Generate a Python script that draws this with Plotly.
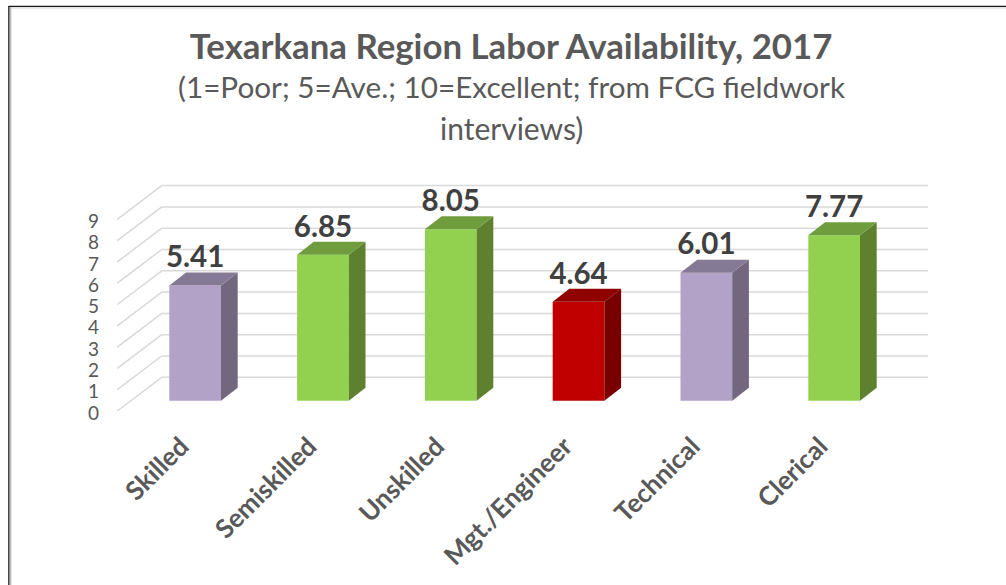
import plotly.graph_objects as go

# ---- data ----
categories = ["Skilled", "Semiskilled", "Unskilled", "Mgt./Engineer", "Technical", "Clerical"]
values = [5.41, 6.85, 8.05, 4.64, 6.01, 7.77]
y_ticks = [0, 1, 2, 3, 4, 5, 6, 7, 8, 9]
face_colors = ["#B3A2C7", "#92D050", "#92D050", "#C00000", "#B3A2C7", "#92D050"]
side_colors = ["#736780", "#5E8130", "#5E8130", "#7A0000", "#736780", "#5E8130"]
top_colors = ["#857A96", "#6F9C3D", "#6F9C3D", "#900000", "#857A96", "#6F9C3D"]

W, H = 1006, 585
PL, PR, PT, PB = 112, 940, 180, 425       # plot area in page pixels
UX, UY = 127.8, 21.3                      # pixels per category / per value unit
X0, Y0 = 195.15, 413.0                    # pixel of category 0 and of value 0 (axis labels)

x_range = [(PL - X0) / UX, (PR - X0) / UX]
y_range = [(Y0 - PB) / UY, (Y0 - PT) / UY]

half = 25.85 / UX                         # half width of a bar
bar_dx, bar_dy = 16.7 / UX, 13.0 / UY     # oblique depth of a bar
bar_base = (Y0 - 400.7) / UY              # bars stand mid-way on the floor
wall_left = (117.3 - X0) / UX
wall_back = (161.7 - X0) / UX
wall_right = (928 - X0) / UX
wall_front_y = (Y0 - 411) / UY
wall_back_y = (Y0 - 377.3) / UY

xs = list(range(len(categories)))
fig = go.Figure()

fig.add_trace(go.Bar(
    x=xs, y=values, base=bar_base, width=2 * half,
    marker=dict(color=face_colors, line=dict(width=0)),
    hoverinfo="skip", showlegend=False,
))

for i, v in zip(xs, values):
    top = bar_base + v
    fig.add_trace(go.Scatter(
        x=[i + half, i + half + bar_dx, i + half + bar_dx, i + half, i + half],
        y=[bar_base, bar_base + bar_dy, top + bar_dy, top, bar_base],
        mode="lines", fill="toself", fillcolor=side_colors[i],
        line=dict(width=0, color=side_colors[i]),
        hoverinfo="skip", showlegend=False,
    ))
    fig.add_trace(go.Scatter(
        x=[i - half, i - half + bar_dx, i + half + bar_dx, i + half, i - half],
        y=[top, top + bar_dy, top + bar_dy, top, top],
        mode="lines", fill="toself", fillcolor=top_colors[i],
        line=dict(width=0, color=top_colors[i]),
        hoverinfo="skip", showlegend=False,
    ))

fig.add_trace(go.Scatter(
    x=xs, y=[bar_base + v + bar_dy - 0.1 for v in values],
    mode="text", text=[f"{v:.2f}" for v in values], textposition="top center",
    textfont=dict(family="Lato", size=29.5, color="#404040", weight="bold"),
    hoverinfo="skip", showlegend=False, cliponaxis=False,
))

GRID = dict(color="#D9D9D9", width=1.5)
shapes = []
for t in y_ticks:
    shapes.append(dict(type="line", layer="below", xref="x", yref="y",
                       x0=wall_left, y0=t + wall_front_y, x1=wall_back, y1=t + wall_back_y, line=GRID))
    shapes.append(dict(type="line", layer="below", xref="x", yref="y",
                       x0=wall_back, y0=t + wall_back_y, x1=wall_right, y1=t + wall_back_y, line=GRID))

# picture frame: black top and left edges with a soft inner shadow
def px(x): return (x - PL) / (PR - PL)
def py(y): return (PB - y) / (PB - PT)
shapes += [
    dict(type="line", xref="paper", yref="paper", x0=px(10), x1=px(W), y0=py(7.8), y1=py(7.8),
         line=dict(color="#E4E4E4", width=2)),
    dict(type="line", xref="paper", yref="paper", x0=px(10.4), x1=px(10.4), y0=py(7), y1=py(H),
         line=dict(color="#BFBFBF", width=2)),
    dict(type="line", xref="paper", yref="paper", x0=px(8.5), x1=px(W), y0=py(6.3), y1=py(6.3),
         line=dict(color="#1A1A1A", width=1.3)),
    dict(type="line", xref="paper", yref="paper", x0=px(8.8), x1=px(8.8), y0=py(6), y1=py(H),
         line=dict(color="#262626", width=1.3)),
]

annotations = [
    dict(text="(1=Poor; 5=Ave.; 10=Excellent; from FCG fieldwork", xref="paper", yref="paper",
         x=px(511), y=py(87), showarrow=False, xanchor="center", yanchor="middle",
         font=dict(family="Lato", size=29.7, color="#595959")),
    dict(text="interviews)", xref="paper", yref="paper",
         x=px(511.5), y=py(128.5), showarrow=False, xanchor="center", yanchor="middle",
         font=dict(family="Lato", size=30, color="#595959")),
]

fig.update_layout(
    width=W, height=H, autosize=False,
    margin=dict(l=PL, r=W - PR, t=PT, b=H - PB, pad=0),
    paper_bgcolor="white", plot_bgcolor="white",
    showlegend=False,
    title=dict(text="Texarkana Region Labor Availability, 2017", x=511 / W, xanchor="center",
               y=1 - 47 / H, yanchor="middle",
               font=dict(family="Lato", size=34.8, color="#595959", weight="bold")),
    xaxis=dict(range=x_range, tickmode="array", tickvals=xs, ticktext=categories, tickangle=-45,
               showgrid=False, zeroline=False, showline=False, ticks="", ticklabelshift=-14,
               tickfont=dict(family="Lato", size=26, color="#595959", weight="bold")),
    yaxis=dict(range=y_range, tickmode="array", tickvals=y_ticks, showgrid=False, zeroline=False,
               showline=False, ticks="", ticklabelstandoff=12,
               tickfont=dict(family="Lato", size=19, color="#595959")),
    shapes=shapes, annotations=annotations,
)

fig.write_html("out.html", config={"displayModeBar": False},
               post_script="document.body.style.margin='0';document.body.style.overflow='hidden';")
